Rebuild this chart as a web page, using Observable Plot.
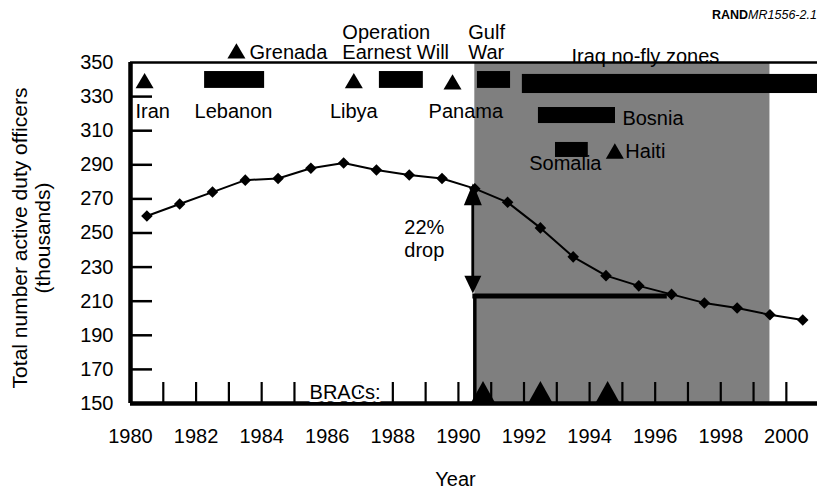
<!DOCTYPE html>
<html><head><meta charset="utf-8">
<script src="https://cdn.jsdelivr.net/npm/d3@7"></script>
<script src="https://cdn.jsdelivr.net/npm/@observablehq/plot@0.6"></script>
<style>
body{margin:0;background:#fff;}
#wrap{position:relative;width:817px;height:489px;overflow:hidden;background:#fff;}
#wrap svg{position:absolute;left:0;top:0;}
#rand{position:absolute;left:712px;top:9px;z-index:2;font-family:"Liberation Sans",Arial,Helvetica,sans-serif;font-size:12.5px;line-height:1;white-space:nowrap;color:#000;}
</style></head><body>
<div id="wrap"><div id="rand"><b>RAND</b><i>MR1556-2.1</i></div></div>
<script>
// ---- data ----
const years = [1980,1981,1982,1983,1984,1985,1986,1987,1988,1989,1990,1991,1992,1993,1994,1995,1996,1997,1998,1999,2000];
const officers = [260,267,274,281,282,288,291,287,284,282,276,268,253,236,225,219,214,209,206,202,199];
const yearLabels = [1980,1982,1984,1986,1988,1990,1992,1994,1996,1998,2000];
const valueLabels = [150,170,190,210,230,250,270,290,310,330,350];
const minorYears = [1981,1982,1983,1984,1985,1986,1987,1988,1989,1990,1991,1992,1993,1994,1995,1996,1997,1998,1999,2000];
const innerValueTicks = [170,190,210,230,250,270,290,310,330];

// operations shown as bars (start / end year, top / bottom level)
const barNames = ["Lebanon","Operation Earnest Will","Gulf War","Iraq no-fly zones","Bosnia","Somalia"];
const barStart = [1982.26,1987.59,1990.58,1991.95,1992.44,1992.96];
const barEnd   = [1984.09,1988.93,1991.59,2000.95,1994.79,1993.96];
const barHigh  = [344.7,344.7,344.7,343.0,323.6,303.1];
const barLow   = [334.8,334.8,334.8,331.8,314.2,294.3];

// operations shown as triangles
const pointNames = ["Iran","Grenada","Libya","Panama","Haiti"];
const pointYear  = [1980.43,1983.23,1986.81,1989.82,1994.77];
const pointLevel = [339.4,356.8,339.4,338.6,298.1];

// labels
const labelText   = ["Iran","Lebanon","Libya","Panama","Grenada","Iraq no-fly zones","Bosnia","Haiti","Somalia"];
const labelYear   = [1980.15,1983.14,1986.81,1989.09,1983.63,1995.70,1995.0,1995.09,1993.26];
const labelLevel  = [317.2,317.2,317.2,317.2,352.3,349.5,313.6,293.7,286.7];
const labelAnchor = ["start","middle","middle","start","start","middle","start","start","middle"];
const stackedText  = ["Operation\nEarnest Will","Gulf\nWar"];
const stackedYear  = [1986.46,1990.30];
const stackedLevel = [352.3,352.3];

// drawdown annotation
const shade = [{start:1990.5, end:1999.5}];
const dropYear = [1990.44];
const dropFrom = [279];
const dropTo = [213];
const dropLineEnd = [1996.37];
const dropLabel = ["22%\ndrop"];
const dropLabelYear = [1988.35];
const dropLabelLevel = [236.2];

// base realignment and closure rounds
const bracYears = [1990.75,1992.5,1994.55];
const bracLabel = ["BRACs:"];
const bracLabelYear = [1985.46];
const bracLabelLevel = [152.9];

// ---- symbols ----
const triCentered = {draw(ctx,size){const r=Math.sqrt(size/Math.PI),h=r*1.7;ctx.moveTo(0,-h/2);ctx.lineTo(r,h/2);ctx.lineTo(-r,h/2);ctx.closePath();}};
const triBase = {draw(ctx,size){const r=Math.sqrt(size/Math.PI),h=r*1.8;ctx.moveTo(0,-h);ctx.lineTo(r,0);ctx.lineTo(-r,0);ctx.closePath();}};
const headUp = {draw(ctx,size){const r=Math.sqrt(size/Math.PI),h=r*2.4;ctx.moveTo(0,0);ctx.lineTo(r,h);ctx.lineTo(-r,h);ctx.closePath();}};
const headDown = {draw(ctx,size){const r=Math.sqrt(size/Math.PI),h=r*2.1;ctx.moveTo(0,0);ctx.lineTo(r,-h);ctx.lineTo(-r,-h);ctx.closePath();}};

const series = years.map((y,i)=>({year:y, value:officers[i]}));
const bars = barNames.map((n,i)=>({name:n, start:barStart[i], end:barEnd[i], hi:barHigh[i], lo:barLow[i]}));
const points = pointNames.map((n,i)=>({name:n, year:pointYear[i], level:pointLevel[i]}));
const labels = labelText.map((t,i)=>({text:t, year:labelYear[i], level:labelLevel[i], anchor:labelAnchor[i]}));
const stacked = stackedText.map((t,i)=>({text:t, year:stackedYear[i], level:stackedLevel[i]}));

const FONT = '"Liberation Sans", Arial, Helvetica, sans-serif';
const plotH = 489 - 62 - 86;

const chart = Plot.plot({
  width: 817, height: 489,
  marginLeft: 130, marginRight: 0, marginTop: 62, marginBottom: 86,
  x: {domain: [1980, 2000.95]},
  y: {domain: [150, 350]},
  style: {fontFamily: FONT, fontSize: "20px", background: "transparent", overflow: "visible", color: "#000"},
  marks: [
    Plot.rect(shade, {x1: "start", x2: "end", y1: () => 150, y2: () => 350, fill: "#7f7f7f"}),
    Plot.rect(bars, {x1: "start", x2: "end", y1: "lo", y2: "hi", fill: "#000"}),
    Plot.dot(points, {x: "year", y: "level", symbol: triCentered, r: 9, fill: "#000", stroke: "none"}),
    Plot.text(labels.filter(d => d.anchor === "start"), {x: "year", y: "level", text: "text", textAnchor: "start", lineAnchor: "bottom", fontSize: 20, fill: "#000"}),
    Plot.text(labels.filter(d => d.anchor === "middle"), {x: "year", y: "level", text: "text", textAnchor: "middle", lineAnchor: "bottom", fontSize: 20, fill: "#000"}),
    Plot.text(stacked, {x: "year", y: "level", text: "text", textAnchor: "start", lineAnchor: "bottom", lineHeight: 1.0, fontSize: 20, fill: "#000"}),
    Plot.text(dropLabel, {x: () => dropLabelYear[0], y: () => dropLabelLevel[0], text: d => d, textAnchor: "start", lineAnchor: "bottom", lineHeight: 1.15, fontSize: 20, fill: "#000"}),
    // axes
    Plot.axisX({ticks: yearLabels, tickSize: 0, tickPadding: 25, tickFormat: d => String(d), label: null, fontSize: 20}),
    Plot.axisY({ticks: valueLabels, tickSize: 0, tickPadding: 17, tickFormat: d => String(d), label: null, fontSize: 20}),
    Plot.tickY(innerValueTicks, {y: d => d, insetRight: 687 - 22, strokeWidth: 2.5, stroke: "#000"}),
    Plot.tickX(minorYears, {x: d => d, insetTop: plotH - 21, strokeWidth: 2.2, stroke: "#000"}),
    Plot.ruleY([350], {strokeWidth: 2.5, stroke: "#000", x1: () => 1980, x2: () => 2000.95}),
    Plot.ruleX([1980], {strokeWidth: 4.5, stroke: "#000", y1: () => 150, y2: () => 350}),
    Plot.ruleY([150], {strokeWidth: 4.5, stroke: "#000"}),
    // data
    Plot.line(series, {x: d => d.year + 0.5, y: "value", stroke: "#000", strokeWidth: 2}),
    Plot.dot(series, {x: d => d.year + 0.5, y: "value", symbol: "diamond2", r: 5.2, fill: "#000", stroke: "none"}),
    // drop annotation
    Plot.ruleY(dropTo, {x1: () => dropYear[0], x2: () => dropLineEnd[0], strokeWidth: 5, stroke: "#000"}),
    Plot.ruleX(shade, {x: "start", y1: () => 150, y2: () => dropTo[0], strokeWidth: 3.5, stroke: "#000"}),
    Plot.ruleX(dropYear, {x: d => d, y1: () => dropFrom[0] - 8, y2: () => dropTo[0] + 6, strokeWidth: 3, stroke: "#000"}),
    Plot.dot(dropYear, {x: d => d, y: () => dropFrom[0], symbol: headUp, r: 9, fill: "#000", stroke: "none"}),
    Plot.dot(dropYear, {x: d => d, y: () => dropTo[0] + 1.5, symbol: headDown, r: 8.5, fill: "#000", stroke: "none"}),
    // BRACs
    Plot.dot(bracYears, {x: d => d, y: () => 150, symbol: triBase, r: 12.5, fill: "#000", stroke: "none"}),
    Plot.text(bracLabel, {x: () => bracLabelYear[0], y: () => bracLabelLevel[0], text: d => d, textAnchor: "start", lineAnchor: "bottom", fontSize: 20, fill: "#000", stroke: "#fff", strokeWidth: 6}),
    // axis titles
    Plot.text(["Total number active duty officers\n(thousands)"], {frameAnchor: "left", text: d => d, rotate: -90, dx: -99, dy: 5, lineHeight: 1.1, fontSize: 21, textAnchor: "middle", fill: "#000"}),
    Plot.text(["Year"], {frameAnchor: "bottom", text: d => d, dx: -18.5, dy: 82, lineAnchor: "bottom", fontSize: 20, textAnchor: "middle", fill: "#000"})
  ]
});
document.getElementById("wrap").appendChild(chart);
</script>
</body></html>
